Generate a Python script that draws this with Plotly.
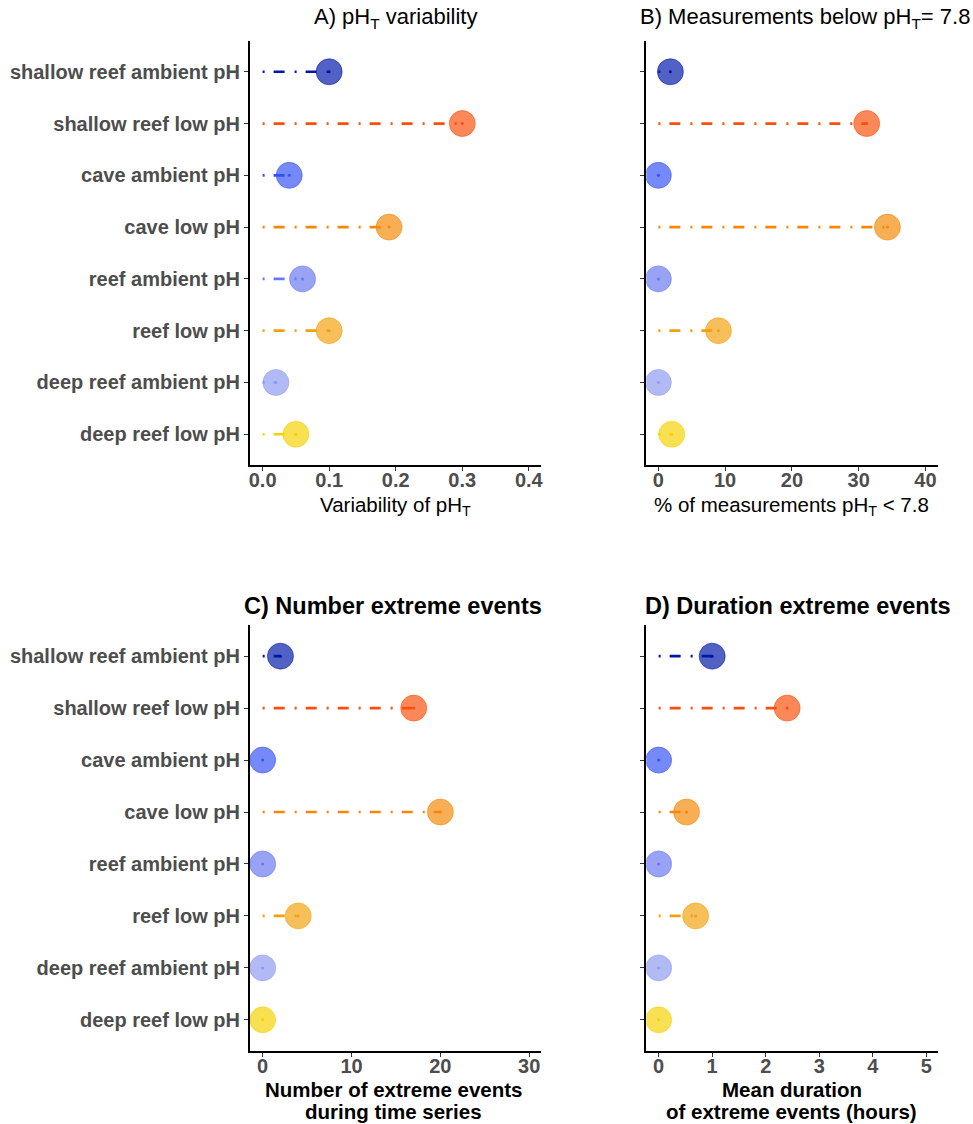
import plotly.graph_objects as go

# Sites, listed top to bottom
sites = [
    "shallow reef ambient pH",
    "shallow reef low pH",
    "cave ambient pH",
    "cave low pH",
    "reef ambient pH",
    "reef low pH",
    "deep reef ambient pH",
    "deep reef low pH",
]
site_colors = [
    "#0016A8", "#FA4F0A", "#3352F5", "#F48705",
    "#6778F0", "#F1A00C", "#8E9AF0", "#F5D100",
]

# Panel values (same site order)
ph_variability = [0.10, 0.30, 0.04, 0.19, 0.06, 0.10, 0.02, 0.05]
pct_below_78 = [1.8, 31.2, 0.0, 34.3, 0.0, 9.0, 0.0, 2.0]
n_extreme_events = [2, 17, 0, 20, 0, 4, 0, 0]
mean_duration_h = [1.0, 2.4, 0.0, 0.52, 0.0, 0.69, 0.0, 0.0]

ticks_a = [0.0, 0.1, 0.2, 0.3, 0.4]
ticks_b = [0, 10, 20, 30, 40]
ticks_c = [0, 10, 20, 30]
ticks_d = [0, 1, 2, 3, 4, 5]

W, H = 973, 1124


def px(x):
    return x / W


def py(y):
    return 1 - y / H


def rgba(hex_col, a):
    h = hex_col.lstrip("#")
    r, g, b = int(h[0:2], 16), int(h[2:4], 16), int(h[4:6], 16)
    return f"rgba({r},{g},{b},{a})"


ypos = [len(sites) - i for i in range(len(sites))]

panels = [
    # values, xaxis id, yaxis id, x range, ticks, tick format
    (ph_variability, "x", "y", [-0.019, 0.418], ticks_a, ".1f"),
    (pct_below_78, "x2", "y2", [-1.8, 41.9], ticks_b, "d"),
    (n_extreme_events, "x3", "y3", [-1.43, 31.3], ticks_c, "d"),
    (mean_duration_h, "x4", "y4", [-0.23, 5.22], ticks_d, "d"),
]

fig = go.Figure()
dash_pattern = "2px,9px,11px,10px"

for vals, xa, ya, _, _, _ in panels:
    # dash-dot segments from zero to the value
    for v, yy, col in zip(vals, ypos, site_colors):
        fig.add_trace(go.Scatter(
            x=[0, v], y=[yy, yy], mode="lines",
            line=dict(color=col, width=2.7, dash=dash_pattern),
            xaxis=xa, yaxis=ya, showlegend=False, hoverinfo="skip",
        ))
    # large translucent points
    fig.add_trace(go.Scatter(
        x=vals, y=ypos, mode="markers",
        marker=dict(size=26, color=[rgba(c, 0.68) for c in site_colors],
                    line=dict(color=[rgba(c, 0.55) for c in site_colors], width=1)),
        xaxis=xa, yaxis=ya, showlegend=False,
    ))
    # small centre points
    fig.add_trace(go.Scatter(
        x=vals, y=ypos, mode="markers",
        marker=dict(size=3, color=site_colors),
        xaxis=xa, yaxis=ya, showlegend=False, hoverinfo="skip",
    ))

x_dom_left = [px(250), px(542)]
x_dom_right = [px(648), px(941)]
y_dom_top = [py(465.3), py(40.7)]
y_dom_bot = [py(1051), py(625)]

tick_font = dict(family="Liberation Sans, Arial", size=20, color="#4D4D4D")
axis_common = dict(
    showline=True, linecolor="black", linewidth=2,
    ticks="outside", ticklen=4, tickwidth=1, tickcolor="#333333",
    showgrid=False, zeroline=False, tickfont=tick_font,
)

layout = dict(
    width=W, height=H,
    margin=dict(l=0, r=0, t=0, b=0),
    paper_bgcolor="white", plot_bgcolor="white",
    showlegend=False,
    font=dict(family="Liberation Sans, Arial", color="black"),
)

doms = [
    (x_dom_left, y_dom_top, True),
    (x_dom_right, y_dom_top, False),
    (x_dom_left, y_dom_bot, True),
    (x_dom_right, y_dom_bot, False),
]

for i, ((vals, xa, ya, xr, tv, fmt), (xd, yd, show_lab)) in enumerate(zip(panels, doms)):
    suffix = "" if i == 0 else str(i + 1)
    tt = [f"{t:.1f}" for t in tv] if fmt == ".1f" else [str(t) for t in tv]
    layout["xaxis" + suffix] = dict(
        axis_common, domain=xd, range=xr, tickvals=tv,
        ticktext=[f"<b>{t}</b>" for t in tt],
        ticklabelstandoff=-8, anchor=ya, fixedrange=True,
    )
    layout["yaxis" + suffix] = dict(
        axis_common, domain=yd, range=[0.4, len(sites) + 0.6],
        tickvals=ypos, ticktext=[f"<b>{s}</b>" for s in sites],
        showticklabels=show_lab, anchor=xa, fixedrange=True,
    )

fig.update_layout(**layout)

title_font = dict(family="Liberation Sans, Arial", size=22, color="black")
bold_title_font = dict(family="Liberation Sans, Arial", size=23.5, color="black")
label_font = dict(family="Liberation Sans, Arial", size=20.5, color="black")

annotations = [
    dict(text="A) pH<sub>T</sub> variability", x=px(396), y=py(18), font=title_font),
    dict(text="B) Measurements below pH<sub>T</sub>= 7.8", x=px(807), y=py(18), font=title_font),
    dict(text="<b>C) Number extreme events</b>", x=px(394), y=py(606), font=bold_title_font),
    dict(text="<b>D) Duration extreme events</b>", x=px(800), y=py(606), font=bold_title_font),
    dict(text="Variability of pH<sub>T</sub>", x=px(396), y=py(506), font=label_font),
    dict(text="% of measurements pH<sub>T</sub> < 7.8", x=px(794), y=py(506), font=label_font),
    dict(text="<b>Number of extreme events</b>", x=px(394), y=py(1089), font=label_font),
    dict(text="<b>during time series</b>", x=px(394), y=py(1111), font=label_font),
    dict(text="<b>Mean duration</b>", x=px(794), y=py(1089), font=label_font),
    dict(text="<b>of extreme events (hours)</b>", x=px(794), y=py(1111), font=label_font),
]
for a in annotations:
    a.update(xref="paper", yref="paper", showarrow=False, xanchor="center", yanchor="middle")

fig.update_layout(annotations=annotations)

fig.write_html("out.html")
